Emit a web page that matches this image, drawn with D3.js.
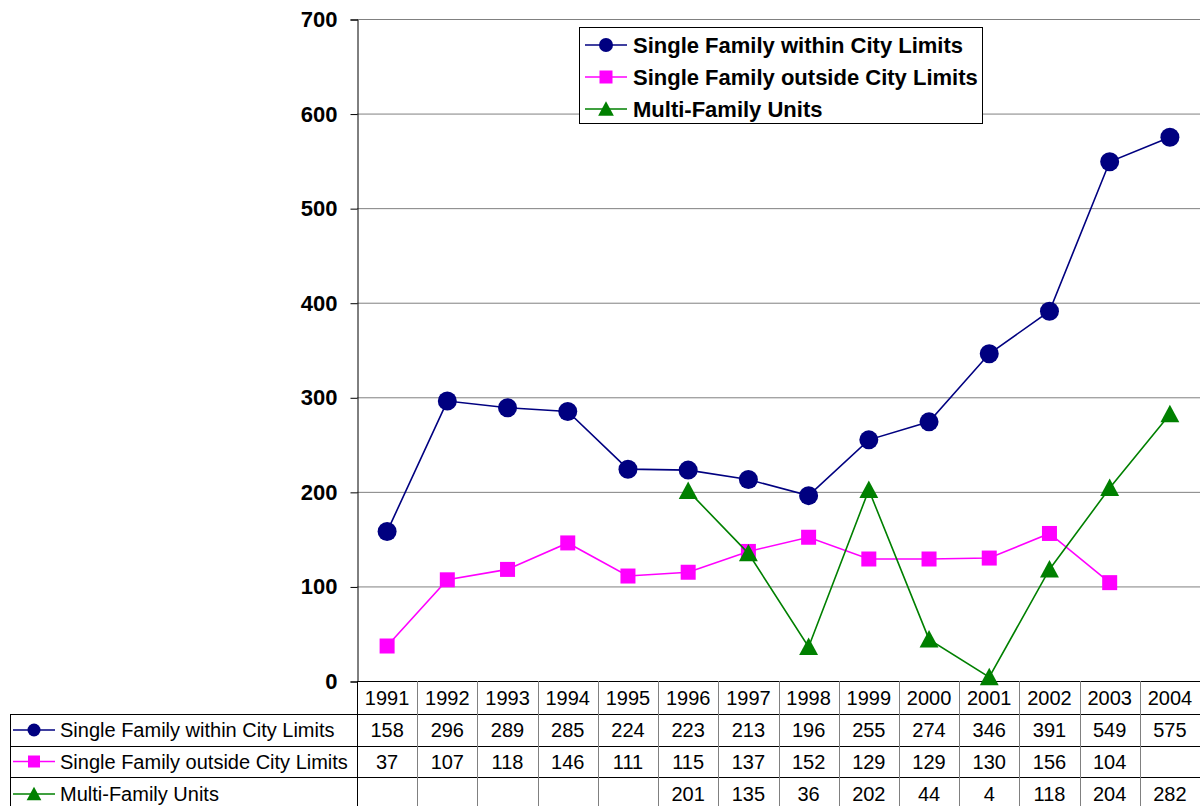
<!DOCTYPE html>
<html>
<head>
<meta charset="utf-8">
<script src="https://d3js.org/d3.v7.min.js"></script>
<style>
  body { margin: 0; background: #fff; }
  svg { display: block; font-family: Arial, "Liberation Sans", sans-serif; }
</style>
</head>
<body>
<div id="chart"></div>
<script>
// values
var years = ["1991","1992","1993","1994","1995","1996","1997","1998","1999","2000","2001","2002","2003","2004"];
var withinCity = [158, 296, 289, 285, 224, 223, 213, 196, 255, 274, 346, 391, 549, 575];
var outsideCity = [37, 107, 118, 146, 111, 115, 137, 152, 129, 129, 130, 156, 104, null];
var multiFamily = [null, null, null, null, null, 201, 135, 36, 202, 44, 4, 118, 204, 282];
var yTicks = [0, 100, 200, 300, 400, 500, 600, 700];

var series = [
  { name: "Single Family within City Limits", values: withinCity, color: "#000080", shape: "circle" },
  { name: "Single Family outside City Limits", values: outsideCity, color: "#ff00ff", shape: "square" },
  { name: "Multi-Family Units", values: multiFamily, color: "#008000", shape: "triangle" }
];

var W = 1200, H = 806;
var plot = { left: 357, right: 1200, top: 19, bottom: 681 };
var rowY = [681, 714, 746, 777, 811]; // table row edges
var tableLeft = 10;

var svg = d3.select("#chart").append("svg")
  .attr("width", W).attr("height", H);

var x = d3.scaleBand().domain(years).range([plot.left, plot.right]).padding(0);
var y = d3.scaleLinear().domain([0, 700]).range([plot.bottom, plot.top]);

// gridlines
svg.append("g").selectAll("line")
  .data(yTicks.filter(function(d){ return d > 0; }))
  .enter().append("line")
  .attr("x1", plot.left).attr("x2", plot.right)
  .attr("y1", function(d){ return y(d) + 0.5; })
  .attr("y2", function(d){ return y(d) + 0.5; })
  .attr("stroke", "#808080").attr("stroke-width", 1);

// y axis
var yAxis = svg.append("g")
  .attr("transform", "translate(" + (plot.left + 0.5) + ",0.5)")
  .call(d3.axisLeft(y).tickValues(yTicks).tickSize(7).tickPadding(13));
yAxis.select(".domain").attr("stroke", "#000");
yAxis.selectAll(".tick line").attr("stroke", "#000");
yAxis.selectAll(".tick text")
  .attr("fill", "#000")
  .style("font-size", "22px")
  .style("font-weight", "bold")
  .style("font-family", "Arial, 'Liberation Sans', sans-serif");

// data table: horizontal lines
var tbl = svg.append("g");
tbl.append("line")
  .attr("x1", plot.left).attr("x2", W)
  .attr("y1", rowY[0] + 0.5).attr("y2", rowY[0] + 0.5)
  .attr("stroke", "#000");
tbl.selectAll("line.h")
  .data(rowY.slice(1, 4))
  .enter().append("line").attr("class", "h")
  .attr("x1", tableLeft).attr("x2", W)
  .attr("y1", function(d){ return d + 0.5; })
  .attr("y2", function(d){ return d + 0.5; })
  .attr("stroke", "#000");
// vertical lines
tbl.append("line")
  .attr("x1", tableLeft + 0.5).attr("x2", tableLeft + 0.5)
  .attr("y1", rowY[1]).attr("y2", H)
  .attr("stroke", "#000");
tbl.append("line")
  .attr("x1", plot.left + 0.5).attr("x2", plot.left + 0.5)
  .attr("y1", rowY[0]).attr("y2", H)
  .attr("stroke", "#000");
tbl.selectAll("line.v")
  .data(years.slice(1))
  .enter().append("line").attr("class", "v")
  .attr("x1", function(d){ return Math.round(x(d)) + 0.5; })
  .attr("x2", function(d){ return Math.round(x(d)) + 0.5; })
  .attr("y1", rowY[0]).attr("y2", H)
  .attr("stroke", "#808080");

// year labels
tbl.selectAll("text.year")
  .data(years)
  .enter().append("text").attr("class", "year")
  .attr("x", function(d){ return x(d) + x.bandwidth() / 2; })
  .attr("y", (rowY[0] + rowY[1]) / 2 + 7)
  .attr("text-anchor", "middle")
  .style("font-size", "20px")
  .text(function(d){ return d; });

// marker drawing helper
function drawMarker(g, shape, color, cx, cy, size) {
  if (shape === "circle") {
    g.append("circle").attr("cx", cx).attr("cy", cy).attr("r", size)
      .attr("fill", color);
  } else if (shape === "square") {
    g.append("rect").attr("x", cx - size).attr("y", cy - size)
      .attr("width", size * 2).attr("height", size * 2).attr("fill", color);
  } else {
    var s = size * 1.05;
    g.append("path")
      .attr("d", "M" + cx + "," + (cy - s) + "L" + (cx + s) + "," + (cy + s * 0.85) + "L" + (cx - s) + "," + (cy + s * 0.85) + "Z")
      .attr("fill", color);
  }
}

// table rows with series values
series.forEach(function(s, i) {
  var top = rowY[i + 1], bot = rowY[i + 2];
  var my = (top + bot) / 2;
  var r = tbl.append("g");
  r.append("line")
    .attr("x1", 13).attr("x2", 55)
    .attr("y1", my).attr("y2", my)
    .attr("stroke", s.color).attr("stroke-width", 1.5);
  var sz = s.shape === "circle" ? 6.5 : (s.shape === "square" ? 6 : 7);
  drawMarker(r, s.shape, s.color, 34, my, sz);
  r.append("text")
    .attr("x", 60).attr("y", my + 7)
    .style("font-size", "20px")
    .text(s.name);
  r.selectAll("text.val")
    .data(s.values.map(function(v, j){ return { v: v, year: years[j] }; })
      .filter(function(d){ return d.v !== null; }))
    .enter().append("text").attr("class", "val")
    .attr("x", function(d){ return x(d.year) + x.bandwidth() / 2; })
    .attr("y", my + 7)
    .attr("text-anchor", "middle")
    .style("font-size", "20px")
    .text(function(d){ return d.v; });
});

// lines and markers
var line = d3.line()
  .defined(function(d){ return d.v !== null; })
  .x(function(d){ return x(d.year) + x.bandwidth() / 2; })
  .y(function(d){ return y(d.v); });

series.forEach(function(s) {
  var pts = s.values.map(function(v, j){ return { v: v, year: years[j] }; });
  svg.append("path")
    .datum(pts)
    .attr("d", line)
    .attr("fill", "none")
    .attr("stroke", s.color)
    .attr("stroke-width", 1.6);
  var mg = svg.append("g");
  pts.filter(function(d){ return d.v !== null; }).forEach(function(d) {
    var sz = s.shape === "circle" ? 9.5 : (s.shape === "square" ? 7.5 : 9);
    drawMarker(mg, s.shape, s.color, x(d.year) + x.bandwidth() / 2, y(d.v), sz);
  });
});

// legend
var lg = svg.append("g");
lg.append("rect")
  .attr("x", 579.5).attr("y", 27.5)
  .attr("width", 403).attr("height", 96)
  .attr("fill", "#fff").attr("stroke", "#000");
series.forEach(function(s, i) {
  var ly = 45 + i * 32;
  lg.append("line")
    .attr("x1", 585).attr("x2", 627)
    .attr("y1", ly).attr("y2", ly)
    .attr("stroke", s.color).attr("stroke-width", 1.5);
  var sz = s.shape === "circle" ? 7 : (s.shape === "square" ? 6.5 : 7.5);
  drawMarker(lg, s.shape, s.color, 606, ly, sz);
  lg.append("text")
    .attr("x", 633).attr("y", ly + 8)
    .style("font-size", "22px")
    .style("font-weight", "bold")
    .text(s.name);
});
</script>
</body>
</html>
